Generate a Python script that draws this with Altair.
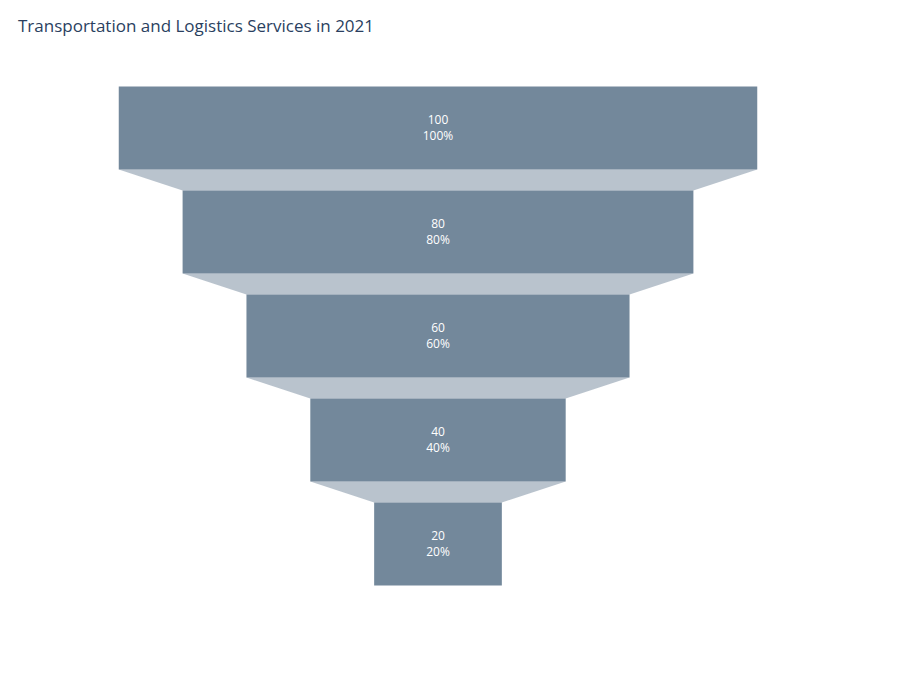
import altair as alt
import pandas as pd

stages = ["Inquiry", "Feasibility Study", "Project Planning", "Implementation", "Operation"]
values = [100, 80, 60, 40, 20]
percents = ["100%", "80%", "60%", "40%", "20%"]

bars = pd.DataFrame({
    "stage": stages,
    "value": values,
    "pct": percents,
    "yc": [i + 0.5 for i in range(len(stages))],
})
bars["x0"] = -bars["value"] / 2
bars["x1"] = bars["value"] / 2
bars["y0"] = bars["yc"] - 0.4
bars["y1"] = bars["yc"] + 0.4
bars["xc"] = 0.0

label_js = "[" + ",".join("'%s'" % s for s in stages) + "]"
xs = alt.Scale(domain=[-55.6, 55.6], nice=False, zero=False)
ys = alt.Scale(domain=[0, 5], reverse=True, nice=False, zero=False)

ax = alt.Axis(values=[0.5, 1.5, 2.5, 3.5, 4.5], labelExpr=label_js + "[floor(datum.value)]",
              title=None, domain=False, ticks=False, labelPadding=2, grid=True,
              gridColor="#dfe3e8", gridWidth=1.2, labelColor="#2a3f5f", labelFontSize=12,
              labelFont="Open Sans")

layers = []
for i in range(len(values) - 1):
    seg = pd.DataFrame({"y": [i + 0.9, i + 1.1],
                        "x0": [-values[i] / 2, -values[i + 1] / 2],
                        "x1": [values[i] / 2, values[i + 1] / 2]})
    layers.append(alt.Chart(seg).mark_area(color="#506a82", opacity=0.4, orient="horizontal").encode(
        y=alt.Y("y:Q", scale=ys, axis=None), x=alt.X("x0:Q", scale=xs, axis=None), x2="x1"))

rect = alt.Chart(bars).mark_rect(color="#506a82", opacity=0.8).encode(
    x=alt.X("x0:Q", scale=xs, axis=None), x2="x1",
    y=alt.Y("y0:Q", scale=ys, axis=ax), y2="y1",
)

t1 = alt.Chart(bars).mark_text(color="white", fontSize=12, font="Open Sans", dy=-8).encode(
    x=alt.X("xc:Q", scale=xs, axis=None), y=alt.Y("yc:Q", scale=ys, axis=None), text="value:Q")
t2 = alt.Chart(bars).mark_text(color="white", fontSize=12, font="Open Sans", dy=8).encode(
    x=alt.X("xc:Q", scale=xs, axis=None), y=alt.Y("yc:Q", scale=ys, axis=None), text="pct:N")

chart = alt.layer(rect, *layers, t1, t2).properties(
    width=710, height=520,
    padding={"left": 10, "top": 10, "right": 10, "bottom": 10},
    title=alt.TitleParams("Transportation and Logistics Services in 2021", anchor="start",
                          frame="group", dx=-65, offset=40, fontSize=17, fontWeight="normal",
                          color="#2a3f5f", font="Open Sans"),
).configure_view(strokeWidth=0)

chart.save("out.html", embed_options={"renderer": "svg", "actions": False})
